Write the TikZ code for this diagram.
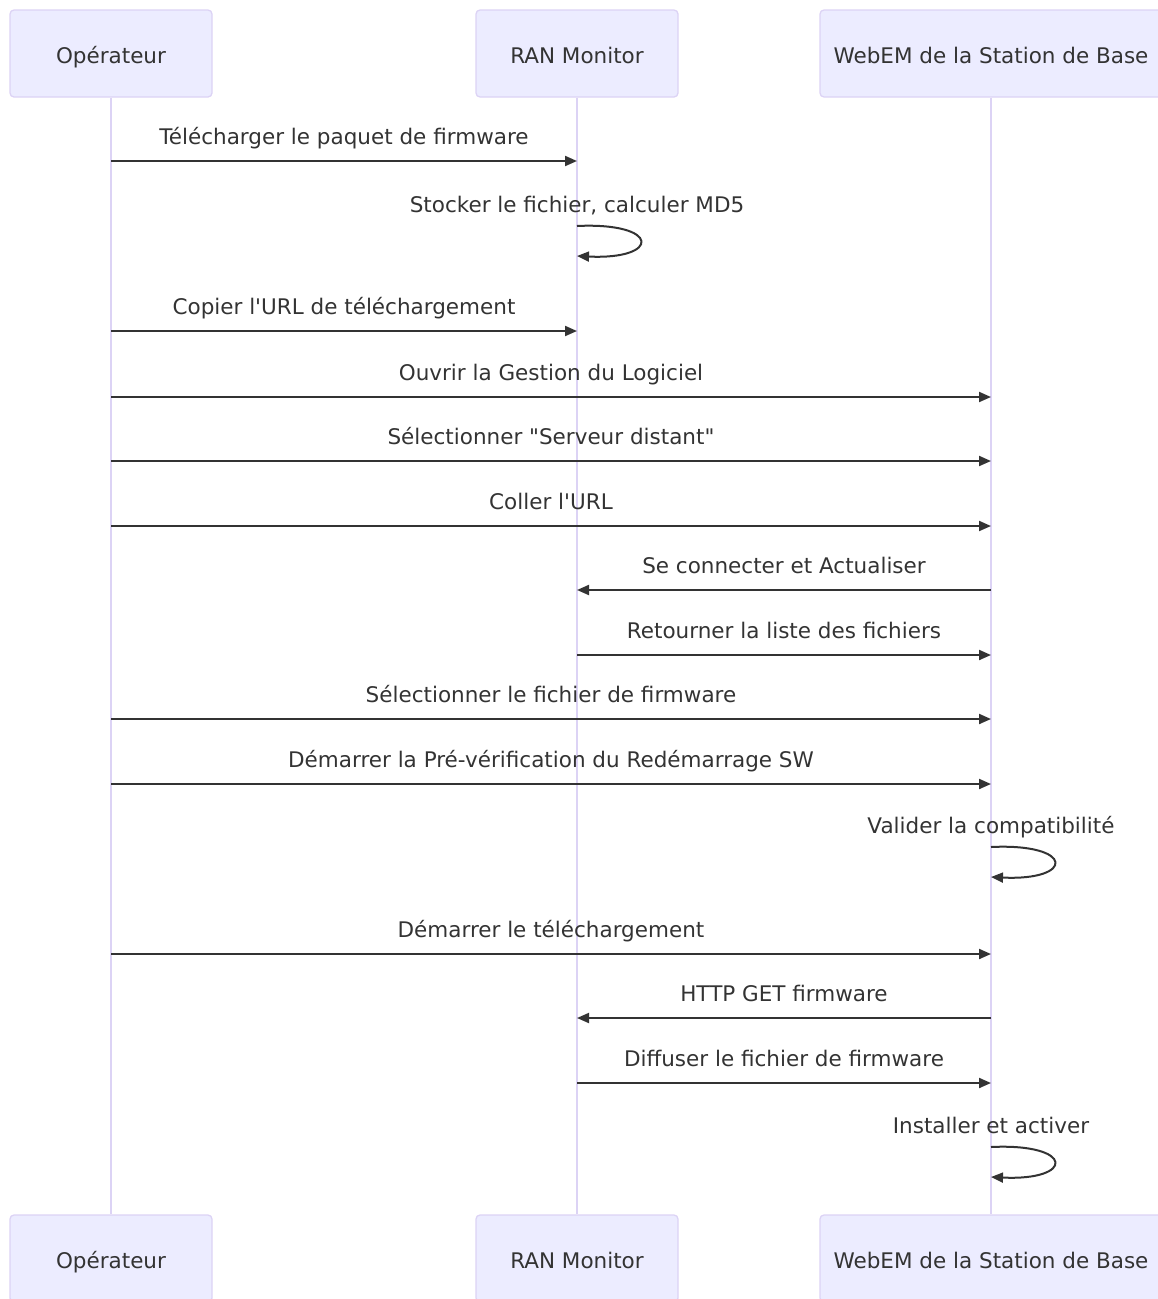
\documentclass[tikz,border=0pt]{standalone}
\usepackage{fontspec}
\setmainfont{DejaVu Sans}
\usetikzlibrary{arrows.meta}
\definecolor{actfill}{HTML}{ECECFF}
\definecolor{actline}{HTML}{DCD3F5}
\definecolor{ink}{HTML}{333333}
\tikzset{
  actor/.style={draw=actline, fill=actfill, rounded corners=4pt, line width=1.3pt,
    minimum height=87pt, text=ink, text height=19.6pt, text depth=0pt,
    font=\fontsize{21.5}{26}\selectfont},
  lifeline/.style={draw=actline, line width=2pt},
  msg/.style={draw=ink, line width=2pt, -{Triangle[length=12pt,width=10pt]}},
  lbl/.style={text=ink, font=\fontsize{21.5}{26}\selectfont, inner sep=0pt, anchor=base},
}
\begin{document}
\begin{tikzpicture}[x=1pt,y=-1pt]
    \useasboundingbox (0,0) rectangle (1158,1299);
    %% Actors
    \node[actor,minimum width=202pt] (op)  at (111,53.5) {Opérateur};
    \node[actor,minimum width=202pt] (ran) at (577,53.5) {RAN Monitor};
    \node[actor,minimum width=342pt] (web) at (991,53.5) {WebEM de la Station de Base};
    \node[actor,minimum width=202pt] (opb)  at (111,1258.5) {Opérateur};
    \node[actor,minimum width=202pt] (ranb) at (577,1258.5) {RAN Monitor};
    \node[actor,minimum width=342pt] (webb) at (991,1258.5) {WebEM de la Station de Base};
    %% Lifelines
    \draw[lifeline] (op.south) -- (opb.north);
    \draw[lifeline] (ran.south) -- (ranb.north);
    \draw[lifeline] (web.south) -- (webb.north);
    %% Messages
    \foreach \from/\to/\y/\txt in {
        op/ran/161/Télécharger le paquet de firmware,
        op/ran/331/Copier l\textquotesingle URL de téléchargement,
        op/web/397/Ouvrir la Gestion du Logiciel,
        op/web/461/Sélectionner \textquotedbl Serveur distant\textquotedbl,
        op/web/526/Coller l\textquotesingle URL,
        web/ran/590/Se connecter et Actualiser,
        ran/web/655/Retourner la liste des fichiers,
        op/web/719/Sélectionner le fichier de firmware,
        op/web/784/Démarrer la Pré-vérification du Redémarrage SW,
        op/web/954/Démarrer le téléchargement,
        web/ran/1018/HTTP GET firmware,
        ran/web/1083/Diffuser le fichier de firmware}
        \draw[msg] (\from |- 0,\y) -- node[lbl,midway,yshift=17pt] (m\y) {\txt} (\to |- 0,\y);
    %% Self calls
    \foreach \who/\y/\txt in {
        ran/226/{Stocker le fichier, calculer MD5},
        web/847/Valider la compatibilité,
        web/1147/Installer et activer}
    {
        \node[lbl] (s\y) at (\who |- 0,\y-14) {\txt};
        \draw[msg] (\who |- 0,\y) .. controls +(84,-4) and +(84,4) .. (\who |- 0,\y+30);
    }
\end{tikzpicture}
\end{document}
